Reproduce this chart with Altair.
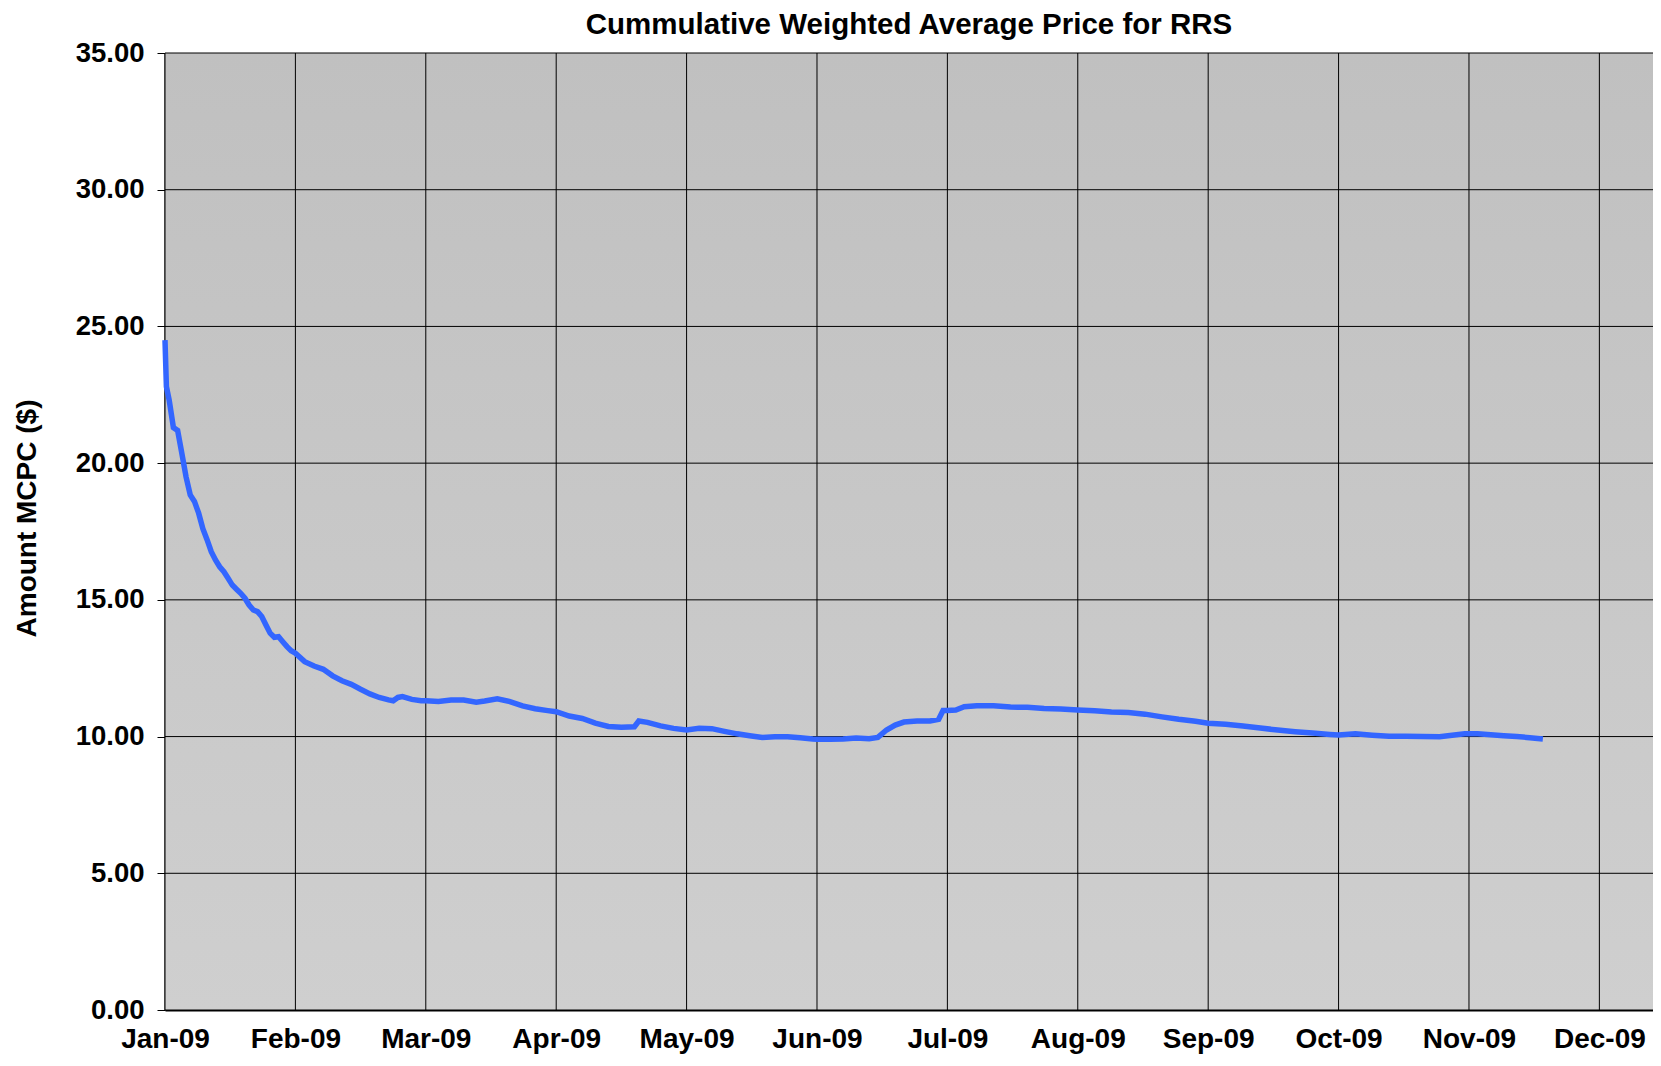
import json
import altair as alt
import pandas as pd

# ---------------- data ----------------
chart_title = "Cummulative Weighted Average Price for RRS"
y_title = "Amount MCPC ($)"
month_labels = ["Jan-09", "Feb-09", "Mar-09", "Apr-09", "May-09", "Jun-09",
                "Jul-09", "Aug-09", "Sep-09", "Oct-09", "Nov-09", "Dec-09"]
y_ticks = [0, 5, 10, 15, 20, 25, 30, 35]
x_end_date = "2009-12-13 18:00"

jan_dates = ["2009-01-01", "2009-01-01 08:00", "2009-01-02", "2009-01-03", "2009-01-04",
             "2009-01-05", "2009-01-06", "2009-01-07", "2009-01-08", "2009-01-09",
             "2009-01-10", "2009-01-11", "2009-01-12", "2009-01-13", "2009-01-14",
             "2009-01-15", "2009-01-16", "2009-01-17", "2009-01-18", "2009-01-19",
             "2009-01-20", "2009-01-21", "2009-01-22", "2009-01-23", "2009-01-24",
             "2009-01-25", "2009-01-26", "2009-01-27", "2009-01-28", "2009-01-29",
             "2009-01-30", "2009-01-31"]
jan_values = [24.5, 22.8, 22.3, 21.3, 21.2, 20.36, 19.5, 18.84, 18.6, 18.17,
              17.6, 17.2, 16.76, 16.46, 16.21, 16.03, 15.79, 15.54, 15.39, 15.24,
              15.06, 14.81, 14.63, 14.57, 14.39, 14.08, 13.78, 13.63, 13.65, 13.47,
              13.29, 13.14]

feb_dates = ["2009-02-01", "2009-02-03", "2009-02-05", "2009-02-07", "2009-02-09",
             "2009-02-11", "2009-02-13", "2009-02-15", "2009-02-17", "2009-02-19",
             "2009-02-21", "2009-02-22", "2009-02-23", "2009-02-24", "2009-02-26",
             "2009-02-28"]
feb_values = [13.05, 12.74, 12.58, 12.46, 12.22, 12.04, 11.91, 11.73, 11.56, 11.43,
              11.34, 11.31, 11.43, 11.46, 11.36, 11.31]

mar_apr_dates = ["2009-03-01", "2009-03-04", "2009-03-07", "2009-03-10", "2009-03-13",
                 "2009-03-15", "2009-03-18", "2009-03-21", "2009-03-24", "2009-03-27",
                 "2009-03-30", "2009-04-01", "2009-04-04", "2009-04-07", "2009-04-10",
                 "2009-04-13", "2009-04-16", "2009-04-19", "2009-04-20", "2009-04-22",
                 "2009-04-25", "2009-04-28"]
mar_apr_values = [11.31, 11.28, 11.34, 11.34, 11.26, 11.30, 11.38, 11.28, 11.12, 11.02,
                  10.95, 10.91, 10.75, 10.66, 10.49, 10.37, 10.34, 10.36, 10.57, 10.52,
                  10.39, 10.30]

may_jun_dates = ["2009-05-01", "2009-05-04", "2009-05-07", "2009-05-10", "2009-05-13",
                 "2009-05-16", "2009-05-19", "2009-05-22", "2009-05-25", "2009-05-28",
                 "2009-05-31", "2009-06-01", "2009-06-04", "2009-06-07", "2009-06-10",
                 "2009-06-13", "2009-06-15", "2009-06-17", "2009-06-19", "2009-06-21",
                 "2009-06-24", "2009-06-27", "2009-06-29", "2009-06-30"]
may_jun_values = [10.24, 10.30, 10.29, 10.19, 10.10, 10.03, 9.97, 9.99, 9.99, 9.96,
                  9.91, 9.90, 9.90, 9.91, 9.95, 9.92, 9.97, 10.24, 10.42, 10.53,
                  10.57, 10.57, 10.63, 10.95]

jul_sep_dates = ["2009-07-01", "2009-07-03", "2009-07-05", "2009-07-08", "2009-07-12",
                 "2009-07-16", "2009-07-20", "2009-07-24", "2009-07-28", "2009-08-01",
                 "2009-08-05", "2009-08-09", "2009-08-13", "2009-08-17", "2009-08-21",
                 "2009-08-25", "2009-08-29", "2009-09-01", "2009-09-05", "2009-09-09",
                 "2009-09-13", "2009-09-17", "2009-09-21", "2009-09-25", "2009-09-29"]
jul_sep_values = [10.95, 10.97, 11.09, 11.13, 11.13, 11.08, 11.07, 11.03, 11.01, 10.97,
                  10.94, 10.90, 10.88, 10.82, 10.72, 10.63, 10.56, 10.49, 10.45, 10.39,
                  10.31, 10.24, 10.18, 10.13, 10.08]

oct_nov_dates = ["2009-10-01", "2009-10-05", "2009-10-09", "2009-10-13", "2009-10-17",
                 "2009-10-21", "2009-10-25", "2009-10-28", "2009-10-31", "2009-11-03",
                 "2009-11-06", "2009-11-09", "2009-11-12", "2009-11-15", "2009-11-18"]
oct_nov_values = [10.06, 10.10, 10.05, 10.01, 10.01, 10.00, 9.99, 10.05, 10.10, 10.10,
                  10.07, 10.03, 10.00, 9.96, 9.91]

# ---------------- table ----------------
dates = jan_dates + feb_dates + mar_apr_dates + may_jun_dates + jul_sep_dates + oct_nov_dates
values = jan_values + feb_values + mar_apr_values + may_jun_values + jul_sep_values + oct_nov_values


def month_pos(ts):
    # the reference axis gives every month the same width
    t = pd.Timestamp(ts)
    frac = (t.day - 1 + t.hour / 24.0) / t.days_in_month
    return (t.month - 1) + frac


df = pd.DataFrame({"date": dates, "price": values})
df["mpos"] = df["date"].map(month_pos)

FONT = "Liberation Sans, Arial, sans-serif"
W, H = 1488, 957

x_scale = alt.Scale(domain=[0, month_pos(x_end_date)], nice=False, zero=False)
y_scale = alt.Scale(domain=[0, 35], nice=False)

x_axis = alt.Axis(
    values=list(range(12)),
    labelExpr=json.dumps(month_labels) + "[datum.value]",
    grid=False,
    ticks=False, tickSize=0,
    domainColor="#000000", domainWidth=2,
    labelFont=FONT, labelFontSize=28, labelFontWeight="bold", labelColor="#000000",
    labelPadding=37, labelFlush=False, labelOverlap=False, labelBaseline="alphabetic",
    title=None,
)

y_axis = alt.Axis(
    values=y_ticks, format=".2f",
    grid=False,
    tickColor="#000000", tickSize=8, tickWidth=1,
    domainColor="#000000", domainWidth=2,
    labelFont=FONT, labelFontSize=27.5, labelFontWeight="bold", labelColor="#000000",
    labelPadding=13,
    title=y_title, titleFont=FONT, titleFontSize=28, titleFontWeight="bold",
    titleColor="#000000", titleX=-138, titleY=465, titleBaseline="middle",
    titleAlign="center", titleAngle=-90,
)

background = alt.Chart(pd.DataFrame({"d": [0]})).mark_rect(
    color=alt.LinearGradient(gradient="linear",
                             stops=[alt.GradientStop(color="#c0c0c0", offset=0),
                                    alt.GradientStop(color="#cfcfcf", offset=1)],
                             x1=0, x2=0, y1=0, y2=1)
).encode(x=alt.value(0), x2=alt.value(W), y=alt.value(0), y2=alt.value(H))

vgrid = alt.Chart(pd.DataFrame({"mpos": list(range(12))})).mark_rule(
    color="#000000", strokeWidth=1
).encode(x=alt.X("mpos:Q", scale=x_scale, axis=x_axis))

hgrid = alt.Chart(pd.DataFrame({"price": y_ticks})).mark_rule(
    color="#000000", strokeWidth=1
).encode(y=alt.Y("price:Q", scale=y_scale, axis=y_axis))

line = alt.Chart(df).mark_line(color="#3366ff", strokeWidth=5.5).encode(
    x=alt.X("mpos:Q", axis=x_axis, scale=x_scale),
    y=alt.Y("price:Q", axis=y_axis, scale=y_scale),
)

chart = alt.layer(background, vgrid, hgrid, line).properties(
    width=W, height=H,
    title=alt.TitleParams(chart_title, font=FONT, fontSize=29.5, fontWeight="bold",
                          color="#000000", anchor="middle", offset=-1),
    autosize=alt.AutoSizeParams(type="none"),
    padding={"left": 157, "top": 45, "right": 0, "bottom": 44},
).configure_view(
    stroke="#000000", strokeWidth=2,
).configure(background="#ffffff")

chart.save("out.html", embed_options={"renderer": "svg", "actions": False})
